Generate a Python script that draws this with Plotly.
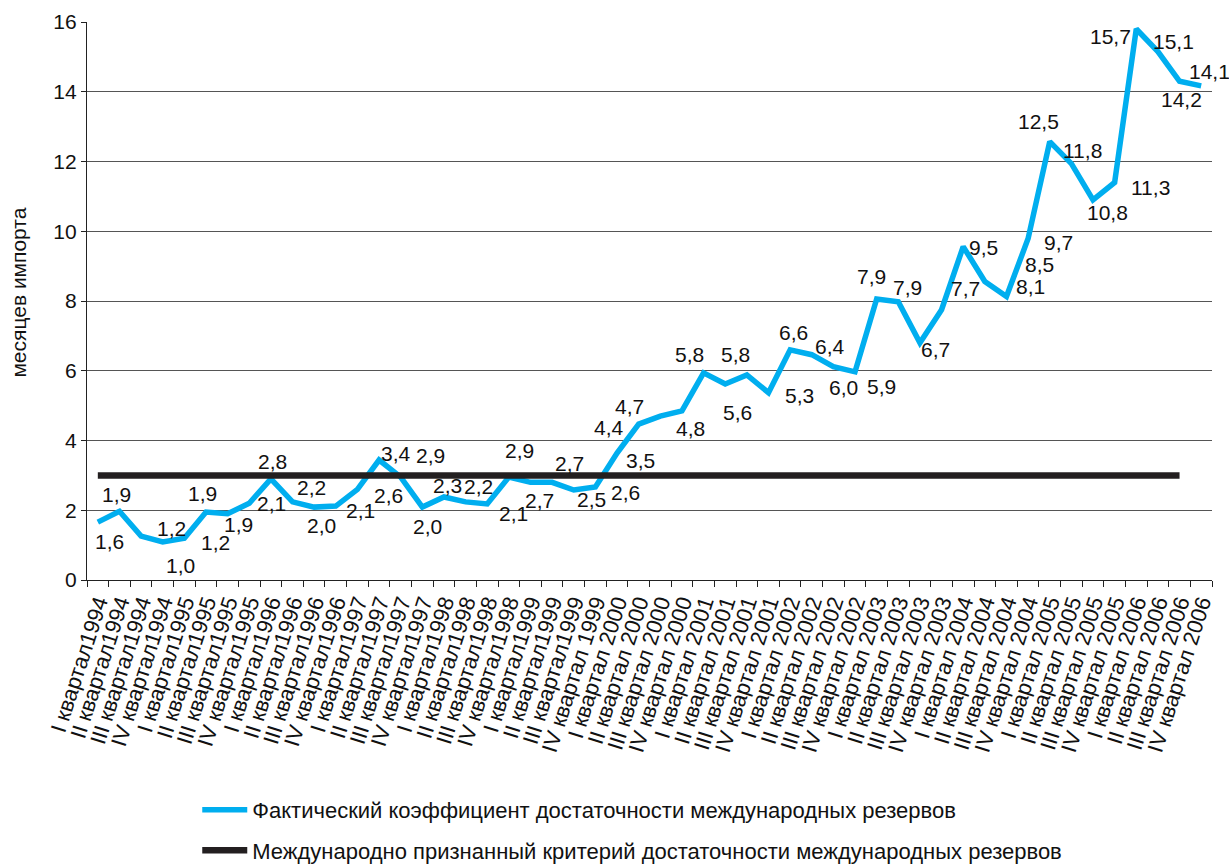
import plotly.graph_objects as go

# ---------------- data ----------------
categories = [
    "I квартал1994", "II квартал1994", "III квартал1994", "IV квартал1994",
    "I квартал1995", "II квартал1995", "III квартал1995", "IV квартал1995",
    "I квартал1996", "II квартал1996", "III квартал1996", "IV квартал1996",
    "I квартал1997", "II квартал1997", "III квартал1997", "IV квартал1997",
    "I квартал1998", "II квартал1998", "III квартал1998", "IV квартал1998",
    "I квартал1999", "II квартал1999", "III квартал1999", "IV квартал 1999",
    "I квартал 2000", "II квартал 2000", "III квартал 2000", "IV квартал 2000",
    "I квартал 2001", "II квартал 2001", "III квартал 2001", "IV квартал 2001",
    "I квартал 2002", "II квартал 2002", "III квартал 2002", "IV квартал 2002",
    "I квартал 2003", "II квартал 2003", "III квартал 2003", "IV квартал 2003",
    "I квартал 2004", "II квартал 2004", "III квартал 2004", "IV квартал 2004",
    "I квартал 2005", "II квартал 2005", "III квартал 2005", "IV квартал 2005",
    "I квартал 2006", "II квартал 2006", "III квартал 2006", "IV квартал 2006",
]

reserve_ratio = [
    1.66, 1.97, 1.26, 1.09, 1.20, 1.95, 1.90, 2.20, 2.90, 2.24, 2.09, 2.12,
    2.60, 3.44, 2.95, 2.09, 2.38, 2.24, 2.18, 2.95, 2.80, 2.80, 2.58, 2.67,
    3.64, 4.47, 4.70, 4.85, 5.94, 5.62, 5.88, 5.37, 6.60, 6.46, 6.12, 5.97,
    8.06, 7.98, 6.80, 7.75, 9.56, 8.56, 8.13, 9.79, 12.57, 11.94, 10.90, 11.40,
    15.80, 15.15, 14.30, 14.17,
]

value_labels = [
    "1,6", "1,9", "1,2", "1,0", "1,2", "1,9", "1,9", "2,1", "2,8", "2,2", "2,0", "2,1",
    "2,6", "3,4", "2,9", "2,0", "2,3", "2,2", "2,1", "2,9", "2,7", "2,7", "2,5", "2,6",
    "3,5", "4,4", "4,7", "4,8", "5,8", "5,6", "5,8", "5,3", "6,6", "6,4", "6,0", "5,9",
    "7,9", "7,9", "6,7", "7,7", "9,5", "8,5", "8,1", "9,7", "12,5", "11,8", "10,8", "11,3",
    "15,7", "15,1", "14,2", "14,1",
]

criterion_value = 3.0
criterion_span = [categories[0], categories[50]]

series_names = [
    "Фактический коэффициент достаточности международных резервов",
    "Международно признанный критерий достаточности международных резервов",
]
y_title = "месяцев импорта"
y_ticks = [0, 2, 4, 6, 8, 10, 12, 14, 16]

# label placement offsets (pixels, right / down) — styling only
label_offsets = [
    (12, 19), (-3, -17), (30, -8), (18, 24), (31, 4), (-3, -18), (11, 11), (22, 0),
    (2, -17), (19, -14), (7, 18), (25, 4), (31, 6), (17, -7), (30, -22), (5, 19),
    (4, -12), (13, -15), (26, 10), (11, -27), (9, 18), (17, -19), (18, 9), (30, 6),
    (23, 7), (-30, 3), (-31, -10), (9, 18), (-14, -18), (12, 28), (-11, -20), (31, 3),
    (3, -17), (18, -8), (10, 21), (26, 15), (-5, -22), (9, -14), (16, 7), (24, -21),
    (20, 1), (55, -17), (24, -10), (30, 4), (-11, -20), (11, -13), (14, 13), (36, 5),
    (-26, 8), (16, -10), (2, 18), (8, -14),
]

FONT = "Liberation Sans, Arial, Helvetica, sans-serif"
BLUE = "#00AEEF"
BLACK = "#231F20"
TXT = "#111111"

fig = go.Figure()

fig.add_trace(go.Scatter(
    x=categories, y=reserve_ratio, mode="lines",
    line=dict(color=BLUE, width=5.5),
    name=series_names[0], legendgroup="a",
))

fig.add_trace(go.Scatter(
    x=criterion_span, y=[criterion_value, criterion_value], mode="lines",
    line=dict(color=BLACK, width=6.5),
    name=series_names[1], legendgroup="b",
))

for cat, val, txt, (dx, dy) in zip(categories, reserve_ratio, value_labels, label_offsets):
    fig.add_annotation(
        x=cat, y=val, text=txt, showarrow=False,
        xshift=dx, yshift=-dy,
        font=dict(family=FONT, size=21, color=TXT),
    )

# y-axis title as a rotated annotation to the left of the tick labels
fig.add_annotation(
    xref="paper", yref="paper", x=-0.0605, y=0.515,
    xanchor="center", yanchor="middle", textangle=-90,
    text=y_title, showarrow=False,
    font=dict(family=FONT, size=21, color=TXT),
)

fig.update_layout(
    width=1229, height=864,
    margin=dict(l=87, r=17, t=22, b=284),
    paper_bgcolor="white", plot_bgcolor="white",
    font=dict(family=FONT, size=21, color=TXT),
    showlegend=True,
    legend=dict(
        orientation="v", x=0.098, xanchor="left",
        y=0.087, yanchor="top", yref="container",
        font=dict(family=FONT, size=22, color=TXT),
        traceorder="grouped", tracegroupgap=9,
        itemwidth=45,
    ),
)

fig.update_xaxes(
    type="category", categoryorder="array", categoryarray=categories,
    tickmode="array", tickvals=categories, ticktext=categories,
    range=[-0.5, len(categories) - 0.5],
    tickson="boundaries", ticks="outside", ticklen=6, tickwidth=1.2,
    tickcolor="#222222",
    showline=True, linecolor="#222222", linewidth=1.2,
    showgrid=False, tickangle=-72, automargin=False,
    tickfont=dict(family=FONT, size=22, color=TXT),
)

fig.update_yaxes(
    range=[0, 16], tickvals=y_ticks,
    ticks="outside", ticklen=5, tickcolor="#222222", tickwidth=1.2,
    showline=True, linecolor="#222222", linewidth=1.2,
    showgrid=True, gridcolor="#555555", gridwidth=1.4,
    zeroline=False, automargin=False,
    tickfont=dict(family=FONT, size=21, color=TXT),
)

fig.write_html(
    "out.html",
    config={"displayModeBar": False},
    post_script="document.body.style.margin='0px';document.body.style.overflow='hidden';",
)
